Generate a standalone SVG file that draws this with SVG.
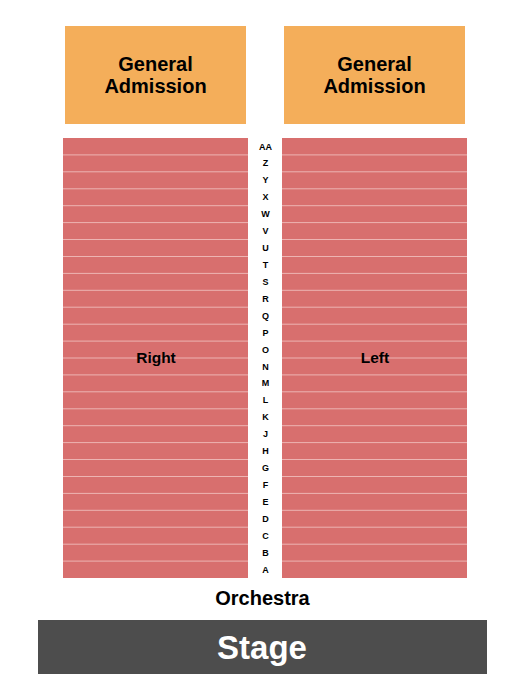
<svg xmlns="http://www.w3.org/2000/svg" width="525" height="700" viewBox="0 0 525 700">
<style>
.ga{fill:#F4AE5A}
.sec{fill:#D86F6E}
.ln{stroke:#EDB4B2;stroke-width:1}
.t{font-family:"Liberation Sans",Arial,sans-serif;font-weight:bold;text-anchor:middle;fill:#000}
.row{font-size:9px}
</style>
<rect width="525" height="700" fill="#fff"/>
<g id="ga-left">
<rect class="ga" x="65" y="26" width="181" height="98"/>
<text class="t" x="155.5" y="71" font-size="20">General</text>
<text class="t" x="155.5" y="93" font-size="20">Admission</text>
</g>
<g id="ga-right">
<rect class="ga" x="284" y="26" width="181" height="98"/>
<text class="t" x="374.5" y="71" font-size="20">General</text>
<text class="t" x="374.5" y="93" font-size="20">Admission</text>
</g>
<g id="right">
<rect class="sec" x="63" y="138" width="185" height="440"/>
<g class="ln">
<line x1="63" x2="248" y1="154.9" y2="154.9"/><line x1="63" x2="248" y1="171.8" y2="171.8"/><line x1="63" x2="248" y1="188.8" y2="188.8"/><line x1="63" x2="248" y1="205.7" y2="205.7"/><line x1="63" x2="248" y1="222.6" y2="222.6"/><line x1="63" x2="248" y1="239.5" y2="239.5"/><line x1="63" x2="248" y1="256.5" y2="256.5"/><line x1="63" x2="248" y1="273.4" y2="273.4"/><line x1="63" x2="248" y1="290.3" y2="290.3"/><line x1="63" x2="248" y1="307.2" y2="307.2"/><line x1="63" x2="248" y1="324.2" y2="324.2"/><line x1="63" x2="248" y1="341.1" y2="341.1"/><line x1="63" x2="248" y1="358" y2="358"/><line x1="63" x2="248" y1="374.9" y2="374.9"/><line x1="63" x2="248" y1="391.8" y2="391.8"/><line x1="63" x2="248" y1="408.8" y2="408.8"/><line x1="63" x2="248" y1="425.7" y2="425.7"/><line x1="63" x2="248" y1="442.6" y2="442.6"/><line x1="63" x2="248" y1="459.5" y2="459.5"/><line x1="63" x2="248" y1="476.5" y2="476.5"/><line x1="63" x2="248" y1="493.4" y2="493.4"/><line x1="63" x2="248" y1="510.3" y2="510.3"/><line x1="63" x2="248" y1="527.2" y2="527.2"/><line x1="63" x2="248" y1="544.2" y2="544.2"/><line x1="63" x2="248" y1="561.1" y2="561.1"/>
</g>
<text class="t" x="156" y="363" font-size="15.5">Right</text>
</g>
<g id="left">
<rect class="sec" x="282" y="138" width="185" height="440"/>
<g class="ln">
<line x1="282" x2="467" y1="154.9" y2="154.9"/><line x1="282" x2="467" y1="171.8" y2="171.8"/><line x1="282" x2="467" y1="188.8" y2="188.8"/><line x1="282" x2="467" y1="205.7" y2="205.7"/><line x1="282" x2="467" y1="222.6" y2="222.6"/><line x1="282" x2="467" y1="239.5" y2="239.5"/><line x1="282" x2="467" y1="256.5" y2="256.5"/><line x1="282" x2="467" y1="273.4" y2="273.4"/><line x1="282" x2="467" y1="290.3" y2="290.3"/><line x1="282" x2="467" y1="307.2" y2="307.2"/><line x1="282" x2="467" y1="324.2" y2="324.2"/><line x1="282" x2="467" y1="341.1" y2="341.1"/><line x1="282" x2="467" y1="358" y2="358"/><line x1="282" x2="467" y1="374.9" y2="374.9"/><line x1="282" x2="467" y1="391.8" y2="391.8"/><line x1="282" x2="467" y1="408.8" y2="408.8"/><line x1="282" x2="467" y1="425.7" y2="425.7"/><line x1="282" x2="467" y1="442.6" y2="442.6"/><line x1="282" x2="467" y1="459.5" y2="459.5"/><line x1="282" x2="467" y1="476.5" y2="476.5"/><line x1="282" x2="467" y1="493.4" y2="493.4"/><line x1="282" x2="467" y1="510.3" y2="510.3"/><line x1="282" x2="467" y1="527.2" y2="527.2"/><line x1="282" x2="467" y1="544.2" y2="544.2"/><line x1="282" x2="467" y1="561.1" y2="561.1"/>
</g>
<text class="t" x="375" y="363" font-size="15.5">Left</text>
</g>
<g id="row-labels" class="t row">
<text x="265.5" y="149.5">AA</text>
<text x="265.5" y="166.4">Z</text>
<text x="265.5" y="183.3">Y</text>
<text x="265.5" y="200.3">X</text>
<text x="265.5" y="217.2">W</text>
<text x="265.5" y="234.1">V</text>
<text x="265.5" y="251">U</text>
<text x="265.5" y="268">T</text>
<text x="265.5" y="284.9">S</text>
<text x="265.5" y="301.8">R</text>
<text x="265.5" y="318.7">Q</text>
<text x="265.5" y="335.7">P</text>
<text x="265.5" y="352.6">O</text>
<text x="265.5" y="369.5">N</text>
<text x="265.5" y="386.4">M</text>
<text x="265.5" y="403.3">L</text>
<text x="265.5" y="420.3">K</text>
<text x="265.5" y="437.2">J</text>
<text x="265.5" y="454.1">H</text>
<text x="265.5" y="471">G</text>
<text x="265.5" y="488">F</text>
<text x="265.5" y="504.9">E</text>
<text x="265.5" y="521.8">D</text>
<text x="265.5" y="538.7">C</text>
<text x="265.5" y="555.7">B</text>
<text x="265.5" y="572.6">A</text>
</g>
<g id="orchestra">
<text class="t" x="262.5" y="605" font-size="20">Orchestra</text>
</g>
<g id="stage">
<rect x="38" y="620" width="449" height="54" fill="#4D4D4D"/>
<text class="t" x="262" y="659" font-size="33" style="fill:#fff">Stage</text>
</g>
</svg>
